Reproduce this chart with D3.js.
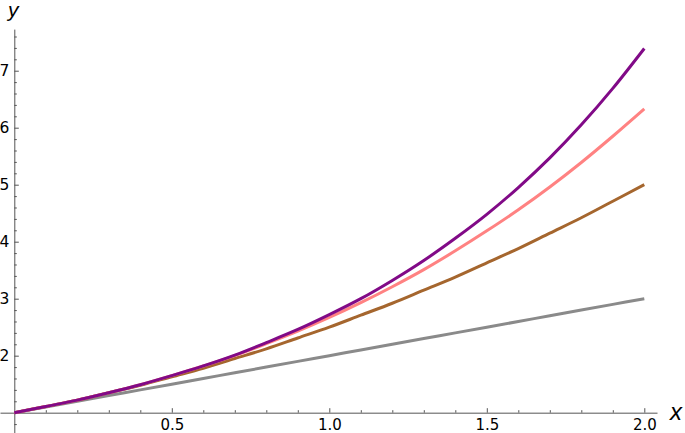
<!DOCTYPE html>
<html>
<head>
<meta charset="utf-8">
<script src="https://cdn.jsdelivr.net/npm/d3@7"></script>
<style>
  body { margin: 0; background: #fff; }
  text { font-family: "Liberation Sans", Arial, sans-serif; }
  .axis path, .axis line { stroke: #555; }
</style>
</head>
<body>
<svg id="chart" width="685" height="433"></svg>
<script>
// x sample positions
const xs = [0, 0.1, 0.2, 0.3, 0.4, 0.5, 0.6, 0.7, 0.8, 0.9, 1.0,
            1.1, 1.2, 1.3, 1.4, 1.5, 1.6, 1.7, 1.8, 1.9, 2.0];

// values (gray, brown, pink, purple)
const grayVals = [1.00, 1.10, 1.20, 1.30, 1.40, 1.50, 1.60, 1.70, 1.80, 1.90, 2.00,
                  2.10, 2.20, 2.30, 2.40, 2.50, 2.60, 2.70, 2.80, 2.90, 3.00];
const brownVals = [1.00, 1.11, 1.22, 1.35, 1.48, 1.63, 1.78, 1.95, 2.12, 2.31, 2.50,
                   2.71, 2.92, 3.15, 3.38, 3.63, 3.88, 4.15, 4.42, 4.71, 5.00];
const pinkVals = [1.00, 1.11, 1.22, 1.35, 1.49, 1.65, 1.82, 2.00, 2.21, 2.43, 2.67,
                  2.93, 3.21, 3.51, 3.84, 4.19, 4.56, 4.96, 5.39, 5.85, 6.33];
const purpleVals = [1.00, 1.11, 1.22, 1.35, 1.49, 1.65, 1.82, 2.01, 2.23, 2.46, 2.72,
                    3.00, 3.32, 3.67, 4.06, 4.48, 4.95, 5.47, 6.05, 6.69, 7.39];

const xMajor = [0.5, 1.0, 1.5, 2.0];
const xMinor = [0.1, 0.2, 0.3, 0.4, 0.6, 0.7, 0.8, 0.9, 1.1, 1.2, 1.3, 1.4,
                1.6, 1.7, 1.8, 1.9];
const yMajor = [2, 3, 4, 5, 6, 7];
const yMinor = [0.8, 1.2, 1.4, 1.6, 1.8, 2.2, 2.4, 2.6, 2.8, 3.2, 3.4, 3.6, 3.8,
                4.2, 4.4, 4.6, 4.8, 5.2, 5.4, 5.6, 5.8, 6.2, 6.4, 6.6, 6.8,
                7.2, 7.4, 7.6];

const seriesList = [
    {name: 'gray', values: grayVals, color: '#8a8a8a'},
    {name: 'brown', values: brownVals, color: '#a5662e'},
    {name: 'pink', values: pinkVals, color: '#ff8282'},
    {name: 'purple', values: purpleVals, color: '#810a87'}
];

const svg = d3.select('#chart');

// Scales
const xScale = d3.scaleLinear()
    .domain([-0.0454, 2.0403])
    .range([0, 657]);

const yScale = d3.scaleLinear()
    .domain([0.64, 7.73])
    .range([433.2, 29.1]);

const x0 = xScale(0);
const y0 = yScale(1);
const tickFont = '"DejaVu Sans", "Liberation Sans", sans-serif';

// x-axis (crosses at y = 1)
svg.append('g')
    .attr('class', 'axis')
    .attr('transform', `translate(0,${y0})`)
    .call(d3.axisBottom(xScale).tickValues(xMinor).tickSizeInner(-2.5).tickSizeOuter(0).tickFormat(''));

const xAxisG = svg.append('g')
    .attr('class', 'axis')
    .attr('transform', `translate(0,${y0})`)
    .call(d3.axisBottom(xScale).tickValues(xMajor).tickSizeInner(-4.5).tickSizeOuter(0)
        .tickPadding(7).tickFormat(d3.format('.1f')));
xAxisG.select('.domain').remove();
xAxisG.selectAll('text')
    .style('font-size', '15px')
    .style('font-family', tickFont)
    .style('fill', '#000');

// y-axis (crosses at x = 0)
svg.append('g')
    .attr('class', 'axis')
    .attr('transform', `translate(${x0},0)`)
    .call(d3.axisLeft(yScale).tickValues(yMinor).tickSizeInner(-2.5).tickSizeOuter(0).tickFormat(''));

const yAxisG = svg.append('g')
    .attr('class', 'axis')
    .attr('transform', `translate(${x0},0)`)
    .call(d3.axisLeft(yScale).tickValues(yMajor).tickSizeInner(-4.5).tickSizeOuter(0)
        .tickPadding(5).tickFormat(d3.format('d')));
yAxisG.select('.domain').remove();
yAxisG.selectAll('text')
    .style('font-size', '15.5px')
    .style('font-family', tickFont)
    .style('fill', '#000');

// Curves
const line = d3.line()
    .x((d, i) => xScale(xs[i]))
    .y(d => yScale(d))
    .curve(d3.curveCatmullRom);

svg.selectAll('.curve')
    .data(seriesList)
    .enter().append('path')
    .attr('class', 'curve')
    .attr('d', d => line(d.values))
    .attr('fill', 'none')
    .attr('stroke', d => d.color)
    .attr('stroke-width', 3);

// Axis labels
svg.append('text')
    .attr('x', 8)
    .attr('y', 17)
    .style('font-size', '21px')
    .style('font-style', 'italic')
    .text('y');

svg.append('text')
    .attr('x', 670)
    .attr('y', 420)
    .style('font-size', '24px')
    .style('font-style', 'italic')
    .text('x');
</script>
</body>
</html>
